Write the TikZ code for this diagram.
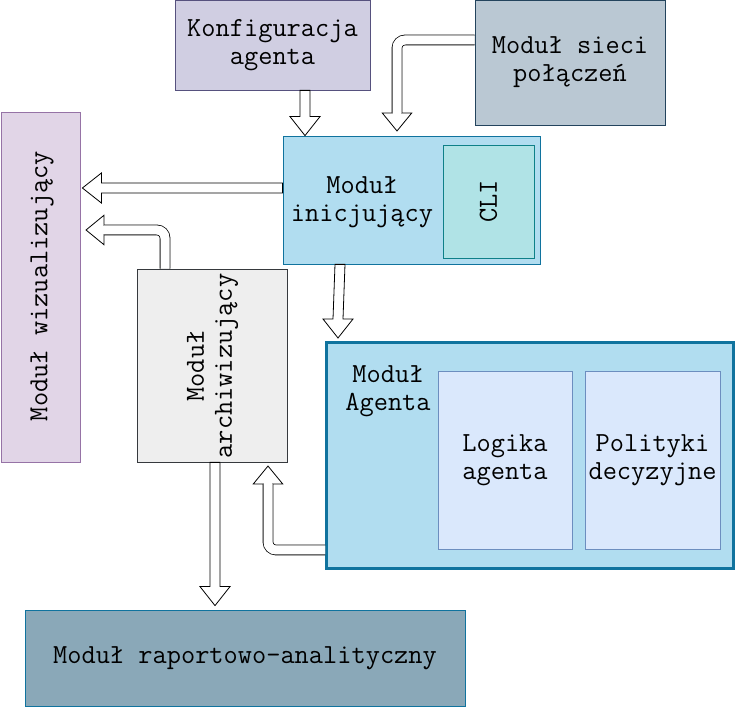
\documentclass[tikz,border=0pt]{standalone}
\usepackage{fontspec}
\usetikzlibrary{arrows.meta,calc}
\definecolor{cKonf}{HTML}{D0CEE2}\definecolor{dKonf}{HTML}{56517E}
\definecolor{cSieci}{HTML}{BAC8D3}\definecolor{dSieci}{HTML}{23445D}
\definecolor{cInit}{HTML}{B1DDF0}\definecolor{dInit}{HTML}{10739E}
\definecolor{cCli}{HTML}{B0E3E6}\definecolor{dCli}{HTML}{0E8088}
\definecolor{cWiz}{HTML}{E1D5E7}\definecolor{dWiz}{HTML}{9673A6}
\definecolor{cArch}{HTML}{EEEEEE}\definecolor{dArch}{HTML}{36393D}
\definecolor{cLog}{HTML}{DAE8FC}\definecolor{dLog}{HTML}{6C8EBF}
\definecolor{cRap}{HTML}{8AA8B8}
\tikzset{
  lbl/.style={font=\ttfamily\fontsize{27.6}{28}\selectfont},
  box/.style={draw, line width=0.8pt, inner sep=0pt, align=center, lbl},
  txt/.style={inner sep=0pt, align=center, lbl},
  barrow/.style={draw=black, fill=white, line width=0.8pt, line join=miter},
  bhead/.style={line width=0.8pt, black,
    -{Triangle[length=19pt,width=31pt,fill=white]}},
  bshaft/.style={line width=0.8pt, draw=black, double=white, double distance=9pt, shorten >=18.6pt},
  bcover/.style={line width=8.4pt, white, shorten >=14pt},
}
% bent block arrow along a path
\newcommand\bentblk[1]{\draw[bhead,rounded corners=8pt] #1; \draw[bshaft,rounded corners=8pt] #1; \draw[bcover,rounded corners=8pt] #1;}
% straight block arrow pointing down (start, tip)
\newcommand\downblk[2]{\draw[barrow] ($(#1)+(-5,0)$) -- ($(#2)+(-5,-19)$) -- ($(#2)+(-15,-19)$) -- (#2) -- ($(#2)+(15,-19)$) -- ($(#2)+(5,-19)$) -- ($(#1)+(5,0)$) -- cycle;}
% straight block arrow pointing left (start, tip)
\newcommand\leftblk[2]{\draw[barrow] ($(#1)+(0,-5)$) -- ($(#2)+(19,-5)$) -- ($(#2)+(19,-15)$) -- (#2) -- ($(#2)+(19,15)$) -- ($(#2)+(19,5)$) -- ($(#1)+(0,5)$) -- cycle;}
\begin{document}
\begin{tikzpicture}[x=1pt,y=-1pt]
\useasboundingbox (0,0) rectangle (737,708);
% boxes
\node[box, fill=cKonf, draw=dKonf, minimum width=195pt, minimum height=90pt] (konf) at (272.5,45) {Konfiguracja\\agenta};
\node[box, fill=cSieci, draw=dSieci, minimum width=190pt, minimum height=125pt] (sieci) at (570,62.5) {Moduł sieci\\połączeń};
\node[box, fill=cInit, draw=dInit, minimum width=257pt, minimum height=128pt] (init) at (411.5,200) {};
\node[txt] (inittxt) at (362,202) {Moduł\\inicjujący};
\node[box, fill=cCli, draw=dCli, minimum width=91pt, minimum height=113pt] (cli) at (488.5,201.5) {};
\node[txt, rotate=90] (clitxt) at (cli.center) {CLI};
\node[box, fill=cWiz, draw=dWiz, minimum width=79pt, minimum height=350pt] (wiz) at (40.5,287) {};
\node[txt, rotate=90] (wiztxt) at (42,286) {Moduł wizualizujący};
\node[box, fill=cArch, draw=dArch, minimum width=150pt, minimum height=193pt] (arch) at (212,365.5) {};
\node[txt, rotate=90] (archtxt) at (212.5,366) {Moduł\\archiwizujący};
\node[box, fill=cInit, draw=dInit, line width=3pt, minimum width=407pt, minimum height=226pt] (agent) at (530,455.5) {};
\node[txt] (agtxt) at (388,391) {Moduł\\Agenta};
\node[box, fill=cLog, draw=dLog, minimum width=134pt, minimum height=178pt] (logika) at (505,460) {Logika\\agenta};
\node[box, fill=cLog, draw=dLog, minimum width=135pt, minimum height=178pt] (polit) at (652.5,460) {Polityki\\decyzyjne};
\node[box, fill=cRap, draw=dInit, minimum width=440pt, minimum height=96pt] (rap) at (245,658) {Moduł raportowo-analityczny};
% arrow end points
\coordinate (a1s) at ([xshift=32.5pt]konf.south);
\coordinate (a1e) at ([xshift=-106.5pt]init.north);
\coordinate (a3s) at ([yshift=12pt]init.west);
\coordinate (a3e) at ([xshift=2pt,yshift=99pt]wiz.east);
\coordinate (a5s) at ([xshift=-71.5pt]init.south);
\coordinate (a5e) at ([xshift=-192pt,yshift=3pt]agent.north);
\coordinate (a7s) at ([xshift=3pt]arch.south);
\coordinate (a7e) at ([xshift=-30pt,yshift=4pt]rap.north);
% arrows
\downblk{a1s}{a1e}
\bentblk{([yshift=22.5pt]sieci.west) -| ([xshift=-14.5pt,yshift=4pt]init.north)}
\leftblk{a3s}{a3e}
\bentblk{([xshift=-47pt]arch.north) |- ([xshift=5pt,yshift=57pt]wiz.east)}
\downblk{a5s}{a5e}
\bentblk{([yshift=-94.5pt]agent.west) -| ([xshift=56pt,yshift=-3pt]arch.south)}
\downblk{a7s}{a7e}
\end{tikzpicture}
\end{document}
